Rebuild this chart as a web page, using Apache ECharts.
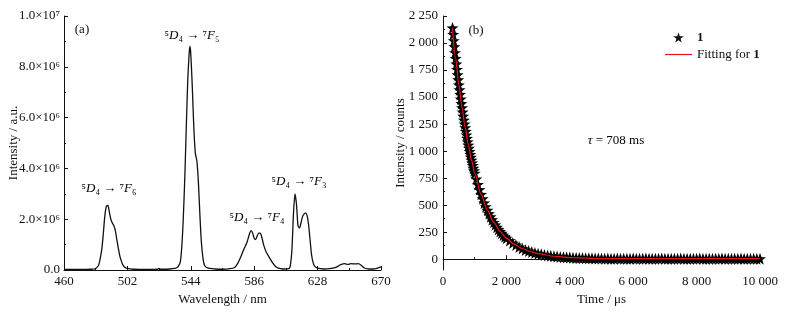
<!DOCTYPE html>
<html>
<head>
<meta charset="utf-8">
<title>Emission spectrum and decay curve</title>
<script src="https://cdn.jsdelivr.net/npm/echarts@6/dist/echarts.min.js"></script>
<style>
    html, body { margin: 0; padding: 0; background: #fff; }
    #chart { width: 787px; height: 313px; }
</style>
</head>
<body>
<div id="chart"></div>
<script>
// (a) emission spectrum, intensity in units of 10^6 a.u.
var wavelength = [
    460, 470, 478, 481, 483, 485, 486, 487, 488, 489,
    490, 491, 492, 493, 494, 495, 496, 497, 498, 499,
    500, 502, 506, 515, 522, 523, 524, 530, 535, 537,
    538, 539, 540, 541, 542, 543, 543.5, 544, 545, 546,
    547, 548, 549, 550, 551, 552, 553, 555, 560, 565,
    570, 573, 575, 577, 579, 581, 583, 584, 585, 586,
    587, 588, 589, 590, 591, 592, 593, 594, 596, 598,
    600, 602, 605, 609, 610, 611, 612, 613, 614, 615,
    616, 617, 618, 619, 620, 621, 622, 623, 624, 625,
    626, 628, 632, 636, 640, 643, 646, 648, 650, 653,
    655, 657, 659, 662, 665, 668, 670
];
var intensity = [
    0.02, 0.02, 0.03, 0.06, 0.2, 0.8, 1.4, 2.1, 2.5, 2.55,
    2.3, 2.0, 1.85, 1.75, 1.55, 1.2, 0.85, 0.55, 0.35, 0.2,
    0.12, 0.06, 0.03, 0.02, 0.03, 0.06, 0.03, 0.04, 0.1, 0.3,
    0.9, 2.0, 3.6, 5.6, 7.5, 8.6, 8.8, 8.5, 7.2, 5.6,
    4.6, 4.3, 3.5, 2.2, 1.1, 0.5, 0.2, 0.08, 0.04, 0.03,
    0.05, 0.1, 0.25, 0.5, 0.8, 1.05, 1.45, 1.55, 1.45, 1.25,
    1.2, 1.35, 1.45, 1.45, 1.3, 1.05, 0.85, 0.7, 0.5, 0.3,
    0.15, 0.07, 0.04, 0.05, 0.2, 0.8, 2.2, 3.0, 2.6, 1.75,
    1.65, 1.85, 2.1, 2.2, 2.25, 2.15, 1.8, 1.2, 0.6, 0.3,
    0.15, 0.07, 0.04, 0.05, 0.1, 0.2, 0.25, 0.22, 0.25, 0.24,
    0.25, 0.18, 0.08, 0.04, 0.04, 0.08, 0.12
];
var waveTicks = [460, 502, 544, 586, 628, 670];
var waveMinorTicks = [481, 523, 565, 607, 649];

// (b) decay curve
var decayTime = [
    300, 320, 340, 360, 380, 400, 420, 440, 460, 480,
    500, 520, 540, 560, 580, 600, 620, 640, 660, 680,
    700, 720, 740, 760, 780, 800, 820, 840, 860, 880,
    900, 920, 940, 960, 980, 1000,
    1050, 1100, 1150, 1200, 1250, 1300, 1350, 1400, 1450, 1500,
    1550, 1600, 1650, 1700, 1750, 1800, 1850, 1900, 1950, 2000,
    2100, 2200, 2300, 2400, 2500, 2600, 2700, 2800, 2900, 3000,
    3100, 3200, 3300, 3400, 3500, 3600, 3700, 3800, 3900, 4000,
    4100, 4200, 4300, 4400, 4500, 4600, 4700, 4800, 4900, 5000,
    5100, 5200, 5300, 5400, 5500, 5600, 5700, 5800, 5900, 6000,
    6100, 6200, 6300, 6400, 6500, 6600, 6700, 6800, 6900, 7000,
    7100, 7200, 7300, 7400, 7500, 7600, 7700, 7800, 7900, 8000,
    8100, 8200, 8300, 8400, 8500, 8600, 8700, 8800, 8900, 9000,
    9100, 9200, 9300, 9400, 9500, 9600, 9700, 9800, 9900, 10000
];
var decayCounts = [
    2140, 2080, 2022, 1966, 1911, 1858, 1806, 1756, 1707, 1660,
    1613, 1568, 1525, 1482, 1441, 1401, 1362, 1324, 1287, 1251,
    1216, 1183, 1150, 1118, 1086, 1056, 1027, 998, 970, 943,
    917, 891, 867, 842, 819, 796,
    742, 691, 644, 600, 559, 521, 486, 453, 422, 393,
    366, 341, 318, 296, 276, 257, 240, 223, 208, 194,
    172, 149, 131, 113, 99, 86, 76, 66, 58, 51,
    45, 39, 35, 31, 27, 24, 21, 19, 17, 15,
    13, 12, 11, 10, 9, 8, 8, 7, 6, 6,
    5, 6, 5, 4, 6, 5, 5, 4, 5, 6,
    4, 5, 5, 6, 4, 5, 5, 4, 6, 5,
    5, 4, 5, 5, 6, 4, 5, 5, 4, 5,
    6, 5, 4, 5, 5, 5, 4, 6, 5, 5,
    4, 5, 5, 6, 5, 4, 5, 5, 4, 5
];
var fitTime = [300, 400, 500, 600, 700, 800, 900, 1000, 1200, 1400, 1600, 1800, 2000,
    2250, 2500, 2750, 3000, 3500, 4000, 5000, 6000, 8000, 10000];
var fitCounts = [2140, 1858, 1613, 1401, 1216, 1056, 917, 796, 600, 453, 341, 257, 194,
    138, 99, 71, 51, 27, 15, 6, 5, 5, 5];
var countTicks = [0, 250, 500, 750, 1000, 1250, 1500, 1750, 2000, 2250];
var countMinorTicks = [125, 375, 625, 875, 1125, 1375, 1625, 1875, 2125];

var chart;
var FONT = 'Liberation Serif';
var INK = '#111';
var FIT_RED = '#e8141c';
var STAR = 'path://M0,-10L2.35,-3.24L9.51,-3.09L3.8,1.24L5.88,8.09L0,4L-5.88,8.09L-3.8,1.24L-9.51,-3.09L-2.35,-3.24Z';
var DASH = 'path://M0,0L27,0L27,1.2L0,1.2Z';

window.onload = function () {
    chart = echarts.init(document.getElementById('chart'), null, { renderer: 'canvas' });
    chart.setOption(buildOption());
};

function zip(xs, ys) {
    var out = [];
    for (var i = 0; i < xs.length; i++) {
        out.push([xs[i], ys[i]]);
    }
    return out;
}

function spaced(v) {
    return String(v).replace(/\B(?=(\d{3})+(?!\d))/g, ' ');
}

function powerLabel(v) {
    if (v === 0) return '0.0';
    if (v === 10) return '1.0×10⁷';
    return v.toFixed(1) + '×10⁶';
}

var labelStyle = { fontFamily: FONT, fontSize: 13, color: INK };
var lineStyle = { color: INK, width: 1 };

function transitionLabel(x, y, level) {
    return {
        type: 'text',
        x: x,
        y: y,
        style: {
            text: '{n|⁵}{i|D}{n|₄ → ⁷}{i|F}{n|' + level + '}',
            textAlign: 'center',
            textVerticalAlign: 'middle',
            rich: {
                n: { fontFamily: FONT, fontSize: 13, color: INK },
                i: { fontFamily: FONT, fontSize: 13, fontStyle: 'italic', color: INK }
            }
        }
    };
}

function buildOption() {
    return {
        animation: false,
        backgroundColor: '#fff',
        textStyle: { fontFamily: FONT },
        grid: [
            { left: 64, top: 16, width: 317, height: 254 },
            { left: 443, top: 16, width: 317, height: 254 }
        ],
        xAxis: [
            {
                type: 'value', gridIndex: 0, position: 'bottom', min: 460, max: 670,
                name: 'Wavelength / nm', nameLocation: 'middle', nameGap: 20,
                nameTextStyle: labelStyle,
                axisLine: { lineStyle: lineStyle },
                axisTick: { inside: true, length: 4, lineStyle: lineStyle, customValues: waveTicks },
                axisLabel: Object.assign({ margin: 5, customValues: waveTicks }, labelStyle),
                splitLine: { show: false }
            },
            {
                type: 'value', gridIndex: 0, position: 'bottom', min: 460, max: 670,
                axisLine: { show: false },
                axisTick: { inside: true, length: 2, lineStyle: lineStyle, customValues: waveMinorTicks },
                axisLabel: { show: false },
                splitLine: { show: false }
            },
            {
                type: 'value', gridIndex: 1, position: 'bottom', min: 0, max: 10000, interval: 2000,
                name: 'Time / μs', nameLocation: 'middle', nameGap: 20,
                nameTextStyle: labelStyle,
                axisLine: { lineStyle: lineStyle },
                axisTick: { inside: true, length: 4, lineStyle: lineStyle },
                minorTick: { show: true, splitNumber: 2, length: 2, lineStyle: lineStyle },
                axisLabel: Object.assign({ margin: 5, formatter: spaced }, labelStyle),
                splitLine: { show: false }
            }
        ],
        yAxis: [
            {
                type: 'value', gridIndex: 0, position: 'left', min: 0, max: 10, interval: 2,
                name: 'Intensity / a.u.', nameLocation: 'middle', nameGap: 44,
                nameMoveOverlap: false,
                nameTextStyle: labelStyle,
                axisLine: { show: true, lineStyle: lineStyle },
                axisTick: { show: true, inside: true, length: 4, lineStyle: lineStyle },
                minorTick: { show: true, splitNumber: 2, length: 2, lineStyle: lineStyle },
                axisLabel: Object.assign({ margin: 4, formatter: powerLabel }, labelStyle),
                splitLine: { show: false }
            },
            {
                type: 'value', gridIndex: 1, position: 'left', min: -100, max: 2250,
                name: 'Intensity / counts', nameLocation: 'middle', nameGap: 36,
                nameMoveOverlap: false,
                nameTextStyle: labelStyle,
                axisLine: { show: true, lineStyle: lineStyle },
                axisTick: { show: true, inside: true, length: 4, lineStyle: lineStyle, customValues: countTicks },
                axisLabel: Object.assign({ margin: 5, customValues: countTicks, formatter: spaced }, labelStyle),
                splitLine: { show: false }
            },
            {
                type: 'value', gridIndex: 1, position: 'left', min: -100, max: 2250,
                axisLine: { show: false },
                axisTick: { show: true, inside: true, length: 2, lineStyle: lineStyle, customValues: countMinorTicks },
                axisLabel: { show: false },
                splitLine: { show: false }
            }
        ],
        legend: {
            orient: 'vertical',
            left: 660,
            top: 26,
            itemWidth: 27,
            itemHeight: 10,
            itemGap: 4,
            data: [
                { name: '1', icon: STAR, itemStyle: { color: INK } },
                { name: 'Fitting for 1', icon: DASH, itemStyle: { color: FIT_RED } }
            ],
            formatter: function (name) {
                return name === '1' ? '{b|1}' : '{r|Fitting for }{b|1}';
            },
            textStyle: {
                fontFamily: FONT, fontSize: 13, color: INK,
                rich: {
                    r: { fontFamily: FONT, fontSize: 13, color: INK },
                    b: { fontFamily: FONT, fontSize: 13, fontWeight: 'bold', color: INK }
                }
            }
        },
        graphic: [
            { type: 'text', x: 82, y: 30, style: { text: '(a)', font: '13px "Liberation Serif"', fill: INK, textAlign: 'center', textVerticalAlign: 'middle' } },
            { type: 'text', x: 476, y: 31, style: { text: '(b)', font: '13px "Liberation Serif"', fill: INK, textAlign: 'center', textVerticalAlign: 'middle' } },
            transitionLabel(192, 36, '₅'),
            transitionLabel(109, 189, '₆'),
            transitionLabel(257, 218, '₄'),
            transitionLabel(299, 182, '₃'),
            {
                type: 'text', x: 616, y: 141,
                style: {
                    text: '{i|τ}{n| = 708 ms}',
                    textAlign: 'center',
                    textVerticalAlign: 'middle',
                    rich: {
                        n: { fontFamily: FONT, fontSize: 13, color: INK },
                        i: { fontFamily: FONT, fontSize: 13, fontStyle: 'italic', color: INK }
                    }
                }
            }
        ],
        series: [
            {
                name: 'spectrum',
                type: 'line',
                xAxisIndex: 0,
                yAxisIndex: 0,
                data: zip(wavelength, intensity),
                smooth: 0.2,
                symbol: 'none',
                lineStyle: { color: INK, width: 1.3 },
                z: 3
            },
            {
                name: '1',
                type: 'scatter',
                xAxisIndex: 2,
                yAxisIndex: 1,
                data: zip(decayTime, decayCounts),
                symbol: STAR,
                symbolSize: 12,
                itemStyle: { color: '#000', opacity: 1 },
                z: 2
            },
            {
                name: 'Fitting for 1',
                type: 'line',
                xAxisIndex: 2,
                yAxisIndex: 1,
                data: zip(fitTime, fitCounts),
                smooth: 0.3,
                smoothMonotone: 'x',
                symbol: 'none',
                lineStyle: { color: FIT_RED, width: 1.2 },
                itemStyle: { color: FIT_RED },
                z: 4
            }
        ]
    };
}
</script>
</body>
</html>
